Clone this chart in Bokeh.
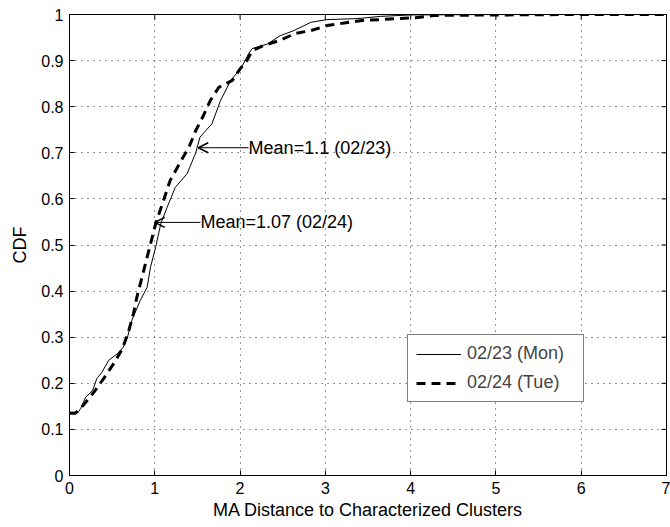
import math
from bokeh.plotting import figure
from bokeh.models import FixedTicker, Range1d, Legend, LegendItem, Arrow, OpenHead
from bokeh.core.properties import value
from bokeh.embed import file_html
from bokeh.resources import INLINE

# ---- data ----
mon_x = [0, 0.1, 0.13, 0.19, 0.27, 0.32, 0.38, 0.46, 0.56, 0.63, 0.68, 0.73, 0.83,
         0.91, 0.95, 1.01, 1.07, 1.145, 1.24, 1.38, 1.48, 1.53, 1.67, 1.77, 1.89,
         2.02, 2.10, 2.14, 2.32, 2.47, 2.63, 2.83, 3.02, 3.37, 3.65, 4.0, 5, 6, 7]
mon_y = [0.137, 0.137, 0.145, 0.17, 0.184, 0.21, 0.224, 0.25, 0.264, 0.278, 0.30,
         0.336, 0.38, 0.408, 0.452, 0.495, 0.546, 0.582, 0.625, 0.655, 0.70, 0.734,
         0.763, 0.813, 0.857, 0.886, 0.915, 0.926, 0.936, 0.954, 0.965, 0.983,
         0.989, 0.991, 0.996, 0.999, 1, 1, 1]

tue_x = [0, 0.07, 0.16, 0.30, 0.41, 0.53, 0.62, 0.69, 0.75, 0.79, 0.85, 0.93, 1.01,
         1.09, 1.18, 1.30, 1.40, 1.48, 1.56, 1.65, 1.75, 1.91, 2.0, 2.08, 2.14,
         2.28, 2.47, 2.65, 2.83, 3.02, 3.24, 3.43, 3.65, 3.84, 4.06, 4.27, 5, 6, 7]
tue_y = [0.135, 0.135, 0.152, 0.184, 0.213, 0.246, 0.275, 0.311, 0.351, 0.387, 0.43,
         0.488, 0.546, 0.59, 0.64, 0.68, 0.712, 0.748, 0.777, 0.813, 0.842, 0.857,
         0.882, 0.90, 0.921, 0.933, 0.944, 0.959, 0.965, 0.976, 0.982, 0.987,
         0.989, 0.991, 0.993, 0.998, 0.999, 1, 1]

series_labels = ["02/23 (Mon)", "02/24 (Tue)"]

x_ticks = [0, 1, 2, 3, 4, 5, 6, 7]
x_tick_labels = ["0", "1", "2", "3", "4", "5", "6", "7"]
y_ticks = [0, 0.1, 0.2, 0.3, 0.4, 0.5, 0.6, 0.7, 0.8, 0.9, 1]
y_tick_labels = ["0", "0.1", "0.2", "0.3", "0.4", "0.5", "0.6", "0.7", "0.8", "0.9", "1"]

ann_text = ["Mean=1.1 (02/23)", "Mean=1.07 (02/24)"]
ann_text_x = [2.10, 1.535]
ann_y = [0.711, 0.549]
ann_point_x = [1.51, 1.0]

x_label = "MA Distance to Characterized Clusters"
y_label = "CDF"

FONT = "Liberation Sans"
X_MIN, X_MAX, Y_MIN, Y_MAX = 0, 7, 0, 1

p = figure(width=670, height=526, output_backend="svg", toolbar_location=None,
           x_range=Range1d(X_MIN, X_MAX), y_range=Range1d(Y_MIN, Y_MAX),
           min_border_left=69, min_border_right=4, min_border_top=14,
           min_border_bottom=51)
p.background_fill_color = "white"
p.border_fill_color = "white"
p.outline_line_color = "black"
p.outline_line_width = 1

def style_axis(ax, ticks, labels):
    ax.ticker = FixedTicker(ticks=ticks)
    ax.major_tick_in = 5
    ax.major_tick_out = 0
    ax.minor_tick_in = 0
    ax.minor_tick_out = 0
    ax.axis_line_color = "black"
    ax.major_tick_line_color = "black"
    ax.major_label_overrides = {t: l for t, l in zip(ticks, labels)}
    ax.major_label_text_font = FONT
    ax.major_label_text_font_size = "16px"
    ax.major_label_text_color = "black"
    ax.major_label_standoff = 6
    ax.axis_label_text_font = FONT
    ax.axis_label_text_font_size = "18px"
    ax.axis_label_text_font_style = "normal"
    ax.axis_label_text_color = "black"

style_axis(p.xaxis[0], x_ticks, x_tick_labels)
style_axis(p.yaxis[0], y_ticks, y_tick_labels)
p.xaxis[0].axis_label = x_label
p.yaxis[0].axis_label = y_label
p.xaxis[0].axis_label_standoff = 3
p.yaxis[0].axis_label_standoff = 8

# inward tick marks on the top and right edges of the box
p.ray(x=x_ticks, y=[Y_MAX] * len(x_ticks), length=5, length_units="screen",
      angle=-math.pi / 2, line_color="black", line_width=1)
p.ray(x=[X_MAX] * len(y_ticks), y=y_ticks, length=5, length_units="screen",
      angle=math.pi, line_color="black", line_width=1)

for g in (p.xgrid[0], p.ygrid[0]):
    g.grid_line_color = "#333333"
    g.grid_line_dash = "1 5"
    g.grid_line_width = 1
p.xgrid[0].ticker = FixedTicker(ticks=x_ticks)
p.ygrid[0].ticker = FixedTicker(ticks=y_ticks)

r1 = p.line(mon_x, mon_y, line_color="black", line_width=1)
r2 = p.line(tue_x, tue_y, line_color="black", line_width=3, line_dash="9 6")

p.text(x=ann_text_x, y=ann_y, text=ann_text, text_align="left",
       text_baseline="middle", text_font=value(FONT), text_font_size=value("18px"),
       text_color="black")
for i in range(len(ann_text)):
    p.add_layout(Arrow(end=OpenHead(size=10, line_width=1.5, line_color="black"),
                       x_start=ann_text_x[i], y_start=ann_y[i],
                       x_end=ann_point_x[i], y_end=ann_y[i],
                       line_color="black", line_width=1))

legend = Legend(items=[LegendItem(label=series_labels[0], renderers=[r1]),
                       LegendItem(label=series_labels[1], renderers=[r2])],
                location=(338, 73), glyph_width=45, glyph_height=20,
                label_height=20, spacing=8, padding=8, label_standoff=6,
                label_width=108, margin=0,
                label_text_font=FONT, label_text_font_size="18px",
                border_line_color="black", border_line_width=1,
                background_fill_color="white", background_fill_alpha=1)
p.add_layout(legend)

open("out.html", "w").write(file_html(p, INLINE))
